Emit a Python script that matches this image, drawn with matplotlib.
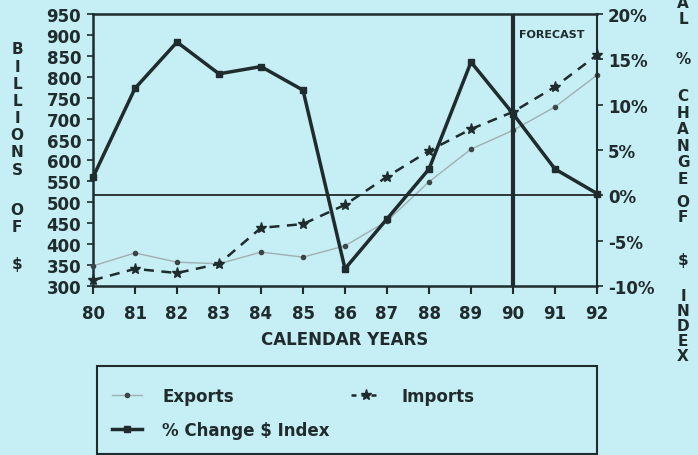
import matplotlib.pyplot as plt
from matplotlib.lines import Line2D
from matplotlib.patches import Rectangle

# 데이터
years = [80, 81, 82, 83, 84, 85, 86, 87, 88, 89, 90, 91, 92]
exports = [348, 379, 357, 353, 381, 369, 396, 455, 549, 627, 672, 728, 804]
imports = [314, 341, 331, 353, 439, 448, 494, 561, 623, 675, 716, 776, 852]
pct_change = [2.0, 11.8, 16.9, 13.4, 14.2, 11.6, -8.1, -2.6, 2.9, 14.7, 9.0, 2.9, 0.2]

left_ticks = list(range(300, 951, 50))
right_ticks = [-10, -5, 0, 5, 10, 15, 20]
forecast_year = 90

bg = '#c6eef5'
ink = '#1f2b2c'
font = dict(family='DejaVu Sans', weight='bold', color=ink)

fig = plt.figure(figsize=(6.98, 4.56), dpi=100, facecolor=bg)
W, H = 698, 456
ax = fig.add_axes([93 / W, 1 - 287 / H, 504 / W, 272 / H])
ax.set_facecolor(bg)
ax2 = ax.twinx()

# 수출 / 수입 (왼쪽 축)
ax.plot(years, exports, '-', color='#9fb0b2', lw=1.0, marker='o', ms=3,
        mfc='#3a4647', mec='#3a4647', clip_on=False, zorder=3)
ax.plot(years, imports, color=ink, lw=1.8, dashes=(4, 3), marker='*', ms=8,
        clip_on=False, zorder=3)
ax.axvline(forecast_year, color=ink, lw=3, zorder=4)

# % 변화 (오른쪽 축)
ax2.plot(years, pct_change, '-', color=ink, lw=2.5, marker='s', ms=4.5,
         clip_on=False, zorder=5)
ax2.axhline(0, color=ink, lw=1.3, zorder=2)

ax.set_xlim(80, 92)
ax.set_ylim(300, 950)
ax2.set_ylim(-10, 20)
ax.set_xticks(years)
ax.set_xticklabels([str(y) for y in years])
ax.set_yticks(left_ticks)
ax2.set_yticks(right_ticks)
ax2.set_yticklabels(['%d%%' % t for t in right_ticks])

ax.tick_params(axis='x', direction='out', length=6, width=1.5, pad=7, colors=ink, labelsize=12)
ax.tick_params(axis='y', direction='out', length=4.5, width=1.2, pad=4, colors=ink, labelsize=12)
ax2.tick_params(axis='y', direction='out', length=4, width=1.2, pad=4, colors=ink, labelsize=12)
for lab in ax.get_xticklabels() + ax.get_yticklabels() + ax2.get_yticklabels():
    lab.set_fontweight('bold')

for s in ['left', 'bottom', 'top']:
    ax.spines[s].set_linewidth(1.8)
    ax.spines[s].set_color(ink)
ax.spines['right'].set_visible(False)
for s in ['left', 'bottom', 'top']:
    ax2.spines[s].set_visible(False)
ax2.spines['right'].set_linewidth(1.5)
ax2.spines['right'].set_color(ink)

ax.set_xlabel('CALENDAR YEARS', fontsize=12, labelpad=6, **font)
ax.text(90.15, 902, 'FORECAST', fontsize=8, va='center', ha='left', **font)

# 세로로 쌓은 축 제목
def stacked(x, y, word, spacing=1.0):
    fig.text(x / W, 1 - y / H, '\n'.join(word), ha='center', va='center',
             fontsize=11, linespacing=spacing, **font)

stacked(17, 110, 'BILLIONS', 1.18)
stacked(17, 219, 'OF', 1.18)
stacked(17, 264, '$')

stacked(683, -20, 'ANNUAL', 1.05)
stacked(683, 60, '%')
stacked(683, 138, 'CHANGE', 1.12)
stacked(683, 210, 'OF', 1.0)
stacked(683, 260, '$')
stacked(683, 327, 'INDEX', 1.0)

# 범례
fig.add_artist(Rectangle((97 / W, 1 - 455 / H), 500 / W, 88 / H, transform=fig.transFigure,
                         fill=False, ec=ink, lw=1.5))
handles = [
    Line2D([], [], color='#9fb0b2', lw=1.0, marker='o', ms=3, mfc='#3a4647', mec='#3a4647'),
    Line2D([], [], color=ink, lw=2.5, marker='s', ms=4.5),
    Line2D([], [], color=ink, lw=1.8, dashes=(2, 2), marker='*', ms=8),
]
labels = ['Exports', '% Change $ Index', 'Imports']
leg = fig.legend(handles, labels, ncol=2, loc='upper left', frameon=False,
                 bbox_to_anchor=(112 / W, 1 - 388 / H), borderpad=0, borderaxespad=0,
                 handlelength=1.8, handletextpad=1.2, columnspacing=1.3, labelspacing=0.95,
                 prop=dict(family='DejaVu Sans', weight='bold', size=12))
for t in leg.get_texts():
    t.set_color(ink)

fig.savefig('out.png', dpi=100, facecolor=bg)
